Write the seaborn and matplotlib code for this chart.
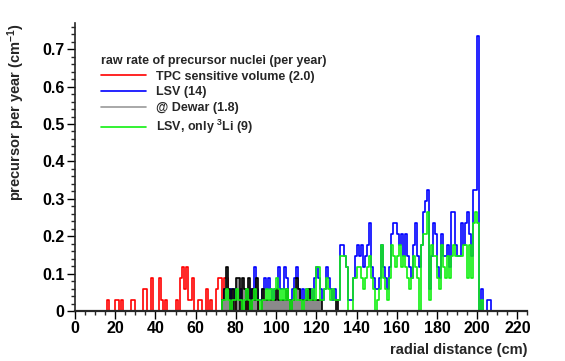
#Radial distribution of precursor nuclei, ROOT-style step histograms
import matplotlib
matplotlib.use('Agg')
import matplotlib.pyplot as plt
from matplotlib.lines import Line2D
from matplotlib.ticker import MultipleLocator, FuncFormatter
import numpy as np
import pandas as pd
import seaborn as sns

# rate carried by one simulated nucleus (precursor / year / cm)
EVENT_RATE = 0.0294

# bin left edges (cm) and number of nuclei in each 1 cm bin
tpc_bins = [16, 20, 21, 23, 28, 29, 34, 35, 38, 42, 43, 45, 50, 52, 53, 54, 55, 56, 57,
            58, 61, 62, 65, 67, 70, 71, 72, 73, 74, 75, 76, 78, 79, 81, 82, 84, 86, 88, 89, 90]
tpc_counts = [1, 1, 1, 1, 1, 1, 2, 2, 3, 3, 1, 1, 1, 3, 4, 2, 4, 1, 1,
              3, 1, 1, 2, 1, 2, 3, 3, 1, 3, 3, 1, 1, 1, 2, 2, 1, 1, 2, 1, 1]

dewar_bins = [73, 74, 75, 76, 78, 80, 81, 83, 84, 86, 88, 89, 90, 93, 94, 95, 96, 97, 98, 99,
              100, 101, 102, 103, 104, 105, 106, 108, 109, 110, 111, 112, 113, 114, 115, 116,
              117, 118, 119, 120, 121, 122, 130]
dewar_counts = [1, 2, 4, 2, 2, 3, 3, 3, 2, 3, 2, 1, 3, 2, 1, 1, 1, 1, 1, 1,
                2, 1, 1, 1, 1, 2, 1, 1, 2, 3, 2, 1, 1, 1, 1, 2,
                1, 1, 1, 1, 1, 1, 1]

lsv_bins = list(range(73, 207))
lsv_counts = [1, 2, 2, 1, 2, 1, 2, 1, 2, 1, 2, 1, 2, 1, 2, 1, 4, 2, 1, 1,      # 73-92
              2, 3, 2, 3, 2, 1, 2, 2, 4, 2, 2, 4, 3, 1, 1, 2, 3, 4, 2, 1,      # 93-112
              2, 1, 2, 1, 2, 1, 3, 4, 3, 2, 1, 2, 4, 3, 2, 1, 2, 1, 1, 6,      # 113-132
              6, 5, 4, 1, 1, 3, 5, 6, 5, 6, 4, 5, 6, 8, 4, 3, 2, 2, 3, 6,      # 133-152
              4, 3, 2, 4, 7, 8, 8, 7, 6, 7, 5, 7, 5, 4, 3, 6, 8, 5, 4, 6,      # 153-172
              9, 10, 11, 2, 5, 8, 7, 4, 3, 7, 5, 5, 6, 4, 9, 9, 6, 5, 5, 8,    # 173-192
              6, 8, 9, 7, 5, 11, 11, 25, 0, 2, 0, 0, 1, 1]                     # 193-206

li_bins = list(range(73, 203))
li_counts = [1, 1, 2, 1, 0, 1, 1, 2, 1, 1, 0, 1, 2, 1, 0, 1, 2, 1, 1, 0,       # 73-92
             1, 1, 2, 1, 2, 1, 2, 3, 2, 1, 2, 1, 2, 1, 0, 1, 2, 1, 1, 1,       # 93-112
             0, 1, 2, 1, 1, 2, 1, 4, 4, 1, 1, 2, 3, 2, 1, 2, 1, 1, 1, 5,       # 113-132
             5, 5, 4, 0, 0, 3, 3, 4, 4, 3, 2, 3, 4, 5, 3, 2, 0, 1, 2, 6,       # 133-152
             3, 2, 1, 3, 6, 5, 4, 5, 6, 4, 5, 4, 3, 2, 3, 5, 4, 3, 0, 6,       # 153-172
             7, 7, 9, 1, 6, 5, 5, 3, 2, 6, 4, 3, 5, 3, 5, 6, 5, 5, 5, 5,       # 173-192
             6, 6, 3, 6, 3, 8, 9, 8, 0, 1]                                     # 193-202

labels = ['TPC sensitive volume (2.0)', 'LSV (14)', '@ Dewar (1.8)', 'LSV, only $^{3}$Li (9)']
legend_title = 'raw rate of precursor nuclei (per year)'

sns.set_style('ticks')
plt.rcParams['font.family'] = ['Liberation Sans', 'DejaVu Sans']
plt.rcParams['font.weight'] = 'bold'
plt.rcParams['mathtext.fontset'] = 'custom'
plt.rcParams['mathtext.rm'] = 'Liberation Sans:bold'
plt.rcParams['mathtext.bf'] = 'Liberation Sans:bold'
plt.rcParams['mathtext.default'] = 'bf'

edges = list(range(0, 226))

fig = plt.figure(figsize=(5.65, 3.61), dpi=100)
ax = fig.add_axes([0.1327, 0.1385, 0.8009, 0.7977])


def draw(bins, counts, **kw):
    df = pd.DataFrame({'r': np.array(bins) + 0.5,
                       'w': np.array(counts) * EVENT_RATE})
    sns.histplot(data=df, x='r', weights='w', bins=edges, element='step', ax=ax, **kw)


draw(tpc_bins, tpc_counts, fill=False, color='#ff0000', linewidth=1.2, zorder=2)
draw(lsv_bins, lsv_counts, fill=False, color='#0000ff', linewidth=1.2, zorder=3)
draw(dewar_bins, dewar_counts, fill=True, color='#8a8a8a', edgecolor='black',
     alpha=1, linewidth=1.2, zorder=4)
draw(li_bins, li_counts, fill=False, color='#11f011', linewidth=1.2, zorder=5)

ax.set_xlim(0, 225)
ax.set_ylim(0, 0.77)
sns.despine(ax=ax)
ax.spines['left'].set_linewidth(1.2)
ax.spines['bottom'].set_linewidth(1.6)
ax.spines['left'].set_zorder(10)
ax.spines['bottom'].set_zorder(10)

ax.xaxis.set_major_locator(MultipleLocator(20))
ax.xaxis.set_minor_locator(MultipleLocator(5))
ax.yaxis.set_major_locator(MultipleLocator(0.1))
ax.yaxis.set_minor_locator(MultipleLocator(0.02))
ax.yaxis.set_major_formatter(FuncFormatter(lambda v, p: '0' if abs(v) < 1e-9 else f'{v:.1f}'))
ax.tick_params(axis='both', which='major', length=6, width=1, labelsize=11.5, pad=1.5, colors='black')
ax.tick_params(axis='both', which='minor', length=3, width=1)
for t in ax.get_xticklabels() + ax.get_yticklabels():
    t.set_fontweight('bold')

ax.set_xlabel('radial distance (cm)', fontsize=10.5, fontweight='bold', loc='right')
ax.xaxis.set_label_coords(1.0, -0.11)
ax.set_ylabel('precursor per year (cm$^{-1}$)', fontsize=10.5, fontweight='bold', loc='top')
ax.yaxis.set_label_coords(-0.107, 1.0)

handles = [Line2D([], [], color=c, linewidth=1.2) for c in ['#ff0000', '#0000ff', '#9a9a9a', '#11f011']]
leg = fig.legend(handles, labels, title=legend_title, loc='upper left',
                 bbox_to_anchor=(0.178, 0.848), frameon=False, fontsize=9,
                 title_fontproperties={'weight': 'bold', 'size': 9},
                 alignment='left', borderpad=0, handlelength=3.6, handletextpad=0.8,
                 labelspacing=0.3, borderaxespad=0)
for t in leg.get_texts():
    t.set_fontweight('bold')

plt.savefig('out.png', dpi=100)
